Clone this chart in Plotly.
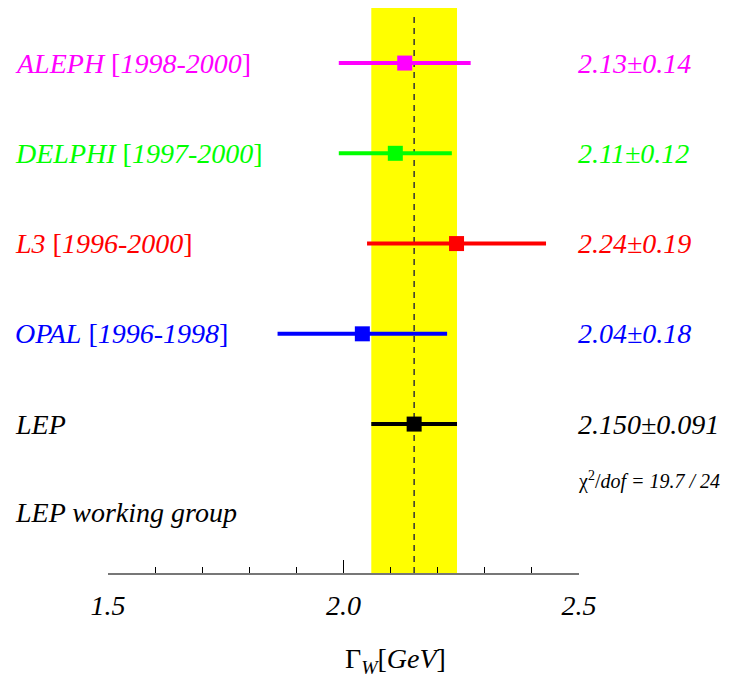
import plotly.graph_objects as go

experiments = ["ALEPH", "DELPHI", "L3", "OPAL", "LEP"]
periods = ["1998-2000", "1997-2000", "1996-2000", "1996-1998", ""]
values = [2.13, 2.11, 2.24, 2.04, 2.150]
errors = [0.14, 0.12, 0.19, 0.18, 0.091]
value_labels = ["2.13\u00b10.14", "2.11\u00b10.12", "2.24\u00b10.19", "2.04\u00b10.18", "2.150\u00b10.091"]
colors = ["#FF00FF", "#00FF00", "#FF0000", "#0000FF", "#000000"]
rows = [5, 4, 3, 2, 1]
chi2_text = "\u03c7<sup>2</sup>/<i>dof = 19.7 / 24</i>"
group_text = "<i>LEP working group</i>"
x_ticks = [1.5, 2.0, 2.5]
x_ticklabels = ["1.5", "2.0", "2.5"]

FONT = "Liberation Serif, Times New Roman, serif"
W, H = 734, 681
LEFT_PX, RIGHT_PX = 108, 579
TOP, BOTTOM = 8, 108
PLOT_H = H - TOP - BOTTOM

fig = go.Figure()

for name, v, e, c, r in zip(experiments, values, errors, colors, rows):
    fig.add_trace(go.Scatter(
        x=[v], y=[r], mode="markers",
        marker=dict(symbol="square", size=15, color=c, line=dict(width=0)),
        error_x=dict(type="data", array=[e], color=c, thickness=4, width=0),
        showlegend=False, hoverinfo="skip", name=name,
    ))

lep_v, lep_e = values[-1], errors[-1]
fig.add_shape(type="rect", xref="x", yref="y domain", x0=lep_v - lep_e, x1=lep_v + lep_e,
              y0=0, y1=1, fillcolor="#FFFF00", line=dict(width=0), layer="below")
fig.add_shape(type="line", xref="x", yref="y domain", x0=lep_v, x1=lep_v, y0=0, y1=0.993,
              line=dict(color="#333333", width=1.5, dash="6px,5px"), layer="below")

for name, per, lab, c, r in zip(experiments, periods, value_labels, colors, rows):
    left = f"<i>{name}</i>" + (f" [<i>{per}</i>]" if per else "")
    fig.add_annotation(x=13 / W, xref="paper", y=r, yref="y", text=left, showarrow=False,
                       xanchor="left", yanchor="middle", font=dict(family=FONT, size=28, color=c))
    fig.add_annotation(x=576 / W, xref="paper", y=r, yref="y", text=f"<i>{lab}</i>",
                       showarrow=False, xanchor="left", yanchor="middle",
                       font=dict(family=FONT, size=28, color=c))

fig.add_annotation(x=576 / W, xref="paper", y=rows[-1] - 0.62, yref="y", text=chi2_text,
                   showarrow=False, xanchor="left", yanchor="middle",
                   font=dict(family=FONT, size=20, color="black"))
fig.add_annotation(x=13 / W, xref="paper", y=rows[-1] - 0.98, yref="y", text=group_text,
                   showarrow=False, xanchor="left", yanchor="middle",
                   font=dict(family=FONT, size=28, color="black"))
fig.add_annotation(x=395 / W, xref="paper", y=(H - BOTTOM - 660) / PLOT_H, yref="paper",
                   text="\u0393<sub><i>W</i></sub>[<i>GeV</i>]", showarrow=False,
                   xanchor="center", yanchor="middle",
                   font=dict(family=FONT, size=28, color="black"))

fig.update_layout(
    width=W, height=H, margin=dict(l=0, r=0, t=TOP, b=BOTTOM, autoexpand=False),
    paper_bgcolor="white", plot_bgcolor="white",
    xaxis=dict(domain=[LEFT_PX / W, RIGHT_PX / W], range=[1.5, 2.5], showgrid=False,
               zeroline=False, showline=True, linecolor="#777777", linewidth=2,
               ticks="inside", ticklen=13, tickwidth=1.2, tickcolor="black",
               tickvals=x_ticks, ticktext=[f"<i>{t}</i>" for t in x_ticklabels],
               tickfont=dict(family=FONT, size=28, color="black"), ticklabelstandoff=6,
               automargin=False,
               minor=dict(dtick=0.1, ticks="inside", ticklen=6, tickwidth=1.2, tickcolor="black",
                          showgrid=False)),
    yaxis=dict(range=[-0.65, 5.61], visible=False, showgrid=False, zeroline=False),
)

fig.write_html("out.html")
